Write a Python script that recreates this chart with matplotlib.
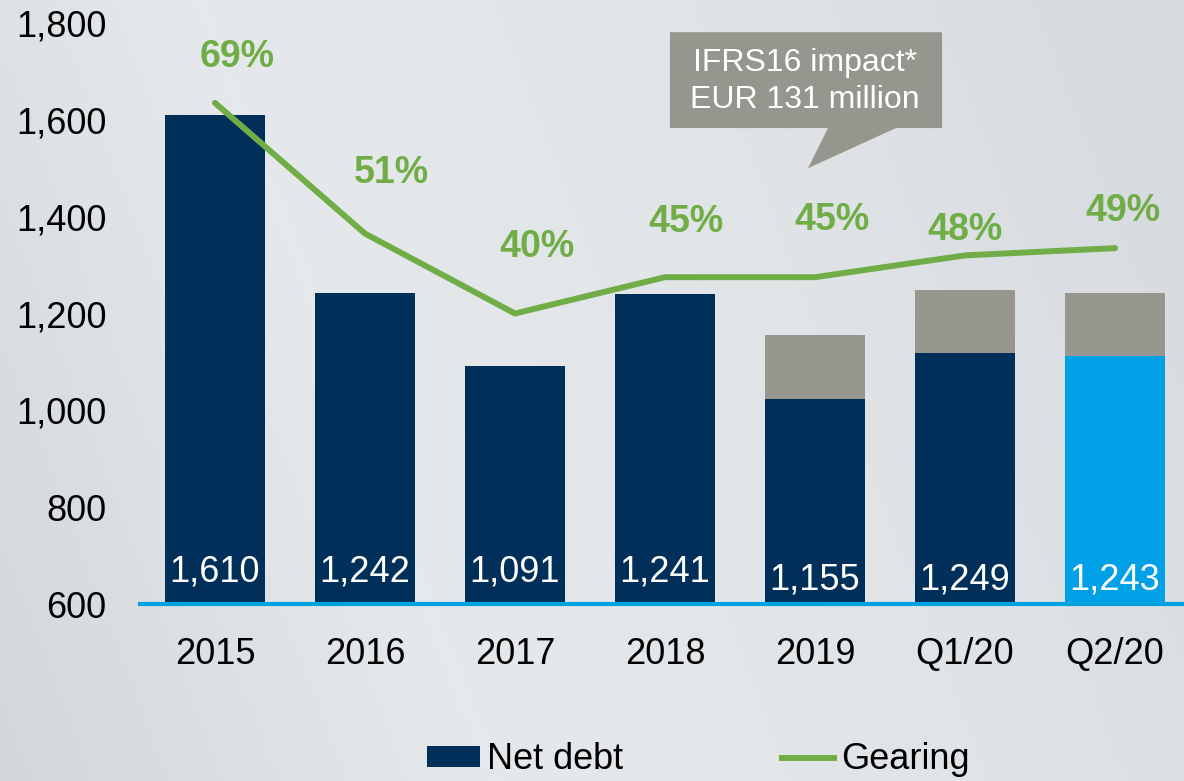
import matplotlib
matplotlib.use('Agg')
import matplotlib.pyplot as plt
import numpy as np
from matplotlib.patches import Polygon, Patch
from matplotlib.lines import Line2D
from matplotlib.colors import LinearSegmentedColormap

# ---- data ----
categories = ['2015', '2016', '2017', '2018', '2019', 'Q1/20', 'Q2/20']
net_debt = [1610, 1242, 1091, 1241, 1155, 1249, 1243]
ifrs16_impact = [0, 0, 0, 0, 131, 131, 131]
gearing = [69, 51, 40, 45, 45, 48, 49]
yticks = [600, 800, 1000, 1200, 1400, 1600, 1800]
callout_lines = ['IFRS16 impact*', 'EUR 131 million']
legend_labels = ['Net debt', 'Gearing']

# ---- style / layout ----
NAVY = '#00305a'
LIGHTBLUE = '#00a0e6'
GRAY = '#979790'
GREEN = '#70ad47'
LINEBLUE = '#00a3e0'
bar_colors = [NAVY] * 6 + [LIGHTBLUE]
value_offsets = [23, 23, 23, 23, 17, 17, 17]  # points above baseline
pct_offsets = [(16, 33), (19, 44), (16, 48), (15, 40), (12, 41), (0, 18), (6, 27)]

plt.rcParams['font.family'] = ['Liberation Sans', 'DejaVu Sans']

W, H = 1184, 781
fig = plt.figure(figsize=(W / 100, H / 100), dpi=100)

# background (brushed metal look)
bg = fig.add_axes([0, 0, 1, 1], zorder=-10)
cmap = LinearSegmentedColormap.from_list('bg', ['#d2d7db', '#e6e9ec', '#e0e4e7', '#d6dade'])
gx = np.linspace(0, 1, 256)[None, :]
gy = np.linspace(0, 1, 256)[:, None]
grad = 0.8 * gx + 0.2 * (1 - gy)
bg.imshow(grad, cmap=cmap, aspect='auto', extent=[0, 1, 0, 1])
bg.axis('off')

left_px, right_px, top_px, bottom_px = 140, 1184, 23, 604
ax = fig.add_axes([left_px / W, 1 - bottom_px / H, (right_px - left_px) / W, (bottom_px - top_px) / H])
ax.patch.set_alpha(0)

x = np.arange(len(categories))
base = [t - i for t, i in zip(net_debt, ifrs16_impact)]
ax.bar(x, base, width=0.667, color=bar_colors, zorder=2)
ax.bar(x, ifrs16_impact, bottom=base, width=0.667, color=GRAY, zorder=2)

ax.set_xlim(-0.5, 6.46)
ax.set_ylim(yticks[0], yticks[-1])
ax.set_yticks(yticks)
ax.set_yticklabels([f'{v:,}' for v in yticks])
ax.set_xticks(x)
ax.set_xticklabels(categories)
for s in ax.spines.values():
    s.set_visible(False)
ax.tick_params(axis='y', length=0, labelsize=26, pad=24)
ax.tick_params(axis='x', length=0, labelsize=26, pad=24)
ax.axhline(yticks[0], color=LINEBLUE, lw=3, zorder=3, clip_on=False)

for i, v in enumerate(net_debt):
    ax.annotate(f'{v:,}', (x[i], yticks[0]), xytext=(0, value_offsets[i]),
                textcoords='offset points', ha='center', va='center',
                color='white', fontsize=26, zorder=5)

# callout
bx0, bx1, by0, by1 = 3.033, 4.847, 1583, 1781
poly = Polygon([(bx0, by1), (bx1, by1), (bx1, by0), (4.54, by0), (3.953, 1500),
                (4.087, by0), (bx0, by0)], closed=True, facecolor='#96968f',
               edgecolor='none', zorder=6, clip_on=False)
ax.add_patch(poly)
ax.text(3.935, 1680, '\n'.join(callout_lines), ha='center', va='center',
        color='white', fontsize=23, linespacing=1.3, zorder=7)

# gearing on hidden secondary axis
ax2 = ax.twinx()
ax2.set_ylim(0, 80)
ax2.axis('off')
ax2.plot(x, gearing, color=GREEN, lw=4.3, solid_capstyle='round', solid_joinstyle='round', zorder=4)
for i, g in enumerate(gearing):
    ax2.annotate(f'{g}%', (x[i], g), xytext=pct_offsets[i], textcoords='offset points',
                 ha='center', va='center', color=GREEN, fontsize=27, fontweight='bold')

handles = [Patch(facecolor=NAVY), Line2D([0], [0], color=GREEN, lw=4.3)]
fig.legend(handles, legend_labels, loc='center', bbox_to_anchor=(0.59, 0.027),
           ncol=2, frameon=False, fontsize=26, handlelength=1.45, handleheight=0.5,
           handletextpad=0.2, columnspacing=4.4, borderpad=0, borderaxespad=0)

fig.savefig('out.png', dpi=100)
